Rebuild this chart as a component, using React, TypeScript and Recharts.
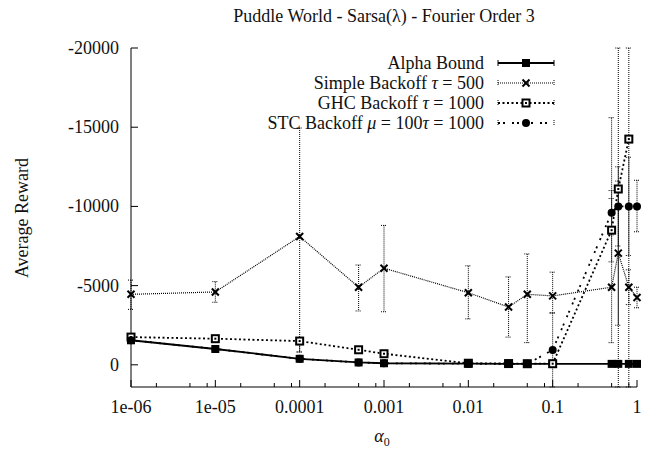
import { LineChart, Line, XAxis, YAxis, ErrorBar } from 'recharts';

// alpha_0 values (x, log scale)
const alphas = [1e-6, 1e-5, 1e-4, 5e-4, 1e-3, 1e-2, 3e-2, 5e-2, 0.1, 0.5, 0.6, 0.8, 1];

const xMajor = [1e-6, 1e-5, 1e-4, 1e-3, 1e-2, 1e-1, 1];
const xMajorLabels = ['1e-06', '1e-05', '0.0001', '0.001', '0.01', '0.1', '1'];
const xMinorSteps = [2, 5, 8];
const yTicks = [-20000, -15000, -10000, -5000, 0];
const yDomain = [-20000, 1400];

// Average reward per alpha_0, with the two ends of each error bar (null = no bar)
const alphaBound = [-1550, -1000, -380, -150, -100, -70, -60, -60, -60, -60, -60, -60, -60];

const simpleBackoff = [-4450, -4600, -8100, -4900, -6100, -4550, -3650, -4450, -4350, -4900, -7050, -4900, -4250];
const simpleLow = [-5350, -5250, -14950, -6300, -8800, -6250, -5550, -7000, -5850, -15600, -11600, -6000, -4900];
const simpleHigh = [-3500, -3950, -800, -3400, -3350, -2900, -1750, -1400, -3300, -1400, -2500, -3800, -3600];

const ghcBackoff = [-1750, -1650, -1500, -950, -700, -100, -80, -70, -70, -8500, -11100, -14250, null];
const ghcLow = [-1900, -1800, -1650, -1100, -850, null, null, null, null, -10500, -20000, -20000, null];
const ghcHigh = [-1600, -1500, -820, -800, -550, null, null, null, null, -6500, 1400, 1400, null];

const stcBackoff = [-1550, -1000, -380, -150, -100, -70, -60, -60, -940, -9600, -10000, -10000, -10000];
const stcLow = [null, null, null, null, null, null, null, null, -3250, -11000, -12500, -13100, -11650];
const stcHigh = [null, null, null, null, null, null, null, null, 1400, -8200, -7500, -6900, -8400];

const FONT = 'Liberation Serif, Times New Roman, DejaVu Serif, serif';
const P = { left: 131, right: 637, top: 48, bottom: 387 };
const TXT = { fontFamily: FONT };

function errOf(mean: (number | null)[], lo: (number | null)[], hi: (number | null)[], i: number) {
  const m = mean[i];
  const a = lo[i];
  const b = hi[i];
  if (m == null || a == null || b == null) return null;
  return [m - Math.min(a, b), Math.max(a, b) - m];
}

const rows = alphas.map((alpha, i) => ({
  alpha,
  alphaBound: alphaBound[i],
  simple: simpleBackoff[i],
  simpleErr: errOf(simpleBackoff, simpleLow, simpleHigh, i),
  ghc: ghcBackoff[i],
  ghcErr: errOf(ghcBackoff, ghcLow, ghcHigh, i),
  stc: stcBackoff[i],
  stcErr: errOf(stcBackoff, stcLow, stcHigh, i),
}));

const xTicks = [
  ...xMajor,
  ...xMajor.slice(0, -1).flatMap((d) => xMinorSteps.map((s) => d * s)),
].sort((a, b) => a - b);

function majorIndex(v: number) {
  return xMajor.findIndex((m) => Math.abs(Math.log10(v) - Math.log10(m)) < 1e-6);
}

function BottomTick(props: any) {
  const { x, payload } = props;
  const i = majorIndex(payload.value);
  const len = i >= 0 ? 7 : 4;
  return (
    <g>
      <line x1={x} x2={x} y1={P.bottom} y2={P.bottom - len} stroke="#000" />
      {i >= 0 && (
        <text x={x} y={P.bottom + 26} textAnchor="middle" fontSize={18} style={TXT} fill="#111">
          {xMajorLabels[i]}
        </text>
      )}
    </g>
  );
}

function TopTick(props: any) {
  const { x, payload } = props;
  const len = majorIndex(payload.value) >= 0 ? 7 : 4;
  return <line x1={x} x2={x} y1={P.top} y2={P.top + len} stroke="#000" />;
}

function LeftTick(props: any) {
  const { y, payload } = props;
  return (
    <g>
      <line x1={P.left} x2={P.left + 7} y1={y} y2={y} stroke="#000" />
      <text x={P.left - 12} y={y + 6} textAnchor="end" fontSize={18} style={TXT} fill="#111">
        {String(payload.value)}
      </text>
    </g>
  );
}

function RightTick(props: any) {
  const { y } = props;
  return <line x1={P.right} x2={P.right - 7} y1={y} y2={y} stroke="#000" />;
}

type Marker = 'square' | 'cross' | 'openSquare' | 'circle';

function drawMarker(kind: Marker, cx: number, cy: number, key?: string) {
  if (kind === 'square') return <rect key={key} x={cx - 4} y={cy - 4} width={8} height={8} fill="#000" />;
  if (kind === 'cross')
    return (
      <g key={key} stroke="#000" strokeWidth={2}>
        <line x1={cx - 3.5} y1={cy - 3.5} x2={cx + 3.5} y2={cy + 3.5} />
        <line x1={cx - 3.5} y1={cy + 3.5} x2={cx + 3.5} y2={cy - 3.5} />
      </g>
    );
  if (kind === 'openSquare')
    return (
      <g key={key}>
        <rect x={cx - 3.5} y={cy - 3.5} width={7} height={7} fill="#fff" stroke="#000" strokeWidth={2} />
        <rect x={cx - 1} y={cy - 1} width={2} height={2} fill="#000" />
      </g>
    );
  return <circle key={key} cx={cx} cy={cy} r={4} fill="#000" />;
}

function dotFor(kind: Marker) {
  return (props: any) => {
    const { cx, cy, index, value } = props;
    const k = `${kind}-${index}`;
    if (cx == null || cy == null || value == null) return <g key={k} />;
    return drawMarker(kind, cx, cy, k);
  };
}

const SERIES = [
  { key: 'alphaBound', marker: 'square' as Marker, dash: undefined, width: 1.8 },
  { key: 'simple', marker: 'cross' as Marker, dash: '1 1', width: 1.2 },
  { key: 'ghc', marker: 'openSquare' as Marker, dash: '2 2.5', width: 1.8 },
  { key: 'stc', marker: 'circle' as Marker, dash: '2 3 2 7', width: 1.8 },
];

const LEGEND_ROWS = [
  [{ t: 'Alpha Bound' }],
  [{ t: 'Simple Backoff ' }, { t: 'τ', i: true }, { t: ' = 500' }],
  [{ t: 'GHC Backoff ' }, { t: 'τ', i: true }, { t: ' = 1000' }],
  [{ t: 'STC Backoff ' }, { t: 'μ', i: true }, { t: ' = 100' }, { t: 'τ', i: true }, { t: ' = 1000' }],
];

function Overlay() {
  return (
    <svg width={652} height={451} style={{ position: 'absolute', left: 0, top: 0, pointerEvents: 'none' }}>
      <text x={384} y={22} textAnchor="middle" fontSize={18} style={TXT} fill="#111">
        Puddle World - Sarsa(λ) - Fourier Order 3
      </text>
      <text
        x={22}
        y={218}
        transform="rotate(-90 22 218)"
        textAnchor="middle"
        dominantBaseline="central"
        fontSize={18}
        style={TXT}
        fill="#111"
      >
        Average Reward
      </text>
      <text x={382} y={442} textAnchor="middle" fontSize={18} style={TXT} fill="#111">
        <tspan fontStyle="italic">α</tspan>
        <tspan fontSize={12} dy={4}>0</tspan>
      </text>
      {LEGEND_ROWS.map((parts, r) => {
        const y = 63 + r * 20;
        const s = SERIES[r];
        return (
          <g key={r}>
            <text x={484} y={y + 6} textAnchor="end" fontSize={18} style={TXT} fill="#111">
              {parts.map((p: any, j) => (
                <tspan key={j} fontStyle={p.i ? 'italic' : 'normal'}>
                  {p.t}
                </tspan>
              ))}
            </text>
            <line x1={498} x2={554} y1={y} y2={y} stroke="#000" strokeWidth={s.width} strokeDasharray={s.dash} />
            <line x1={498} x2={498} y1={y - 3} y2={y + 3} stroke="#000" strokeDasharray={s.dash ? '1 1' : undefined} />
            <line x1={554} x2={554} y1={y - 3} y2={y + 3} stroke="#000" strokeDasharray={s.dash ? '1 1' : undefined} />
            {drawMarker(s.marker, 526, y)}
          </g>
        );
      })}
    </svg>
  );
}

export default function App() {
  return (
    <div style={{ position: 'absolute', left: 0, top: 0, width: 652, height: 451, background: '#fff' }}>
      <LineChart width={652} height={451} data={rows} margin={{ top: P.top, right: 652 - P.right, bottom: 0, left: 0 }}>
        <XAxis
          xAxisId="b"
          dataKey="alpha"
          type="number"
          scale="log"
          domain={[1e-6, 1]}
          ticks={xTicks}
          interval={0}
          height={451 - P.bottom}
          tickSize={0}
          tickMargin={0}
          tickLine={false}
          tick={BottomTick}
          axisLine={{ stroke: '#000' }}
        />
        <XAxis
          xAxisId="t"
          orientation="top"
          type="number"
          scale="log"
          domain={[1e-6, 1]}
          ticks={xTicks}
          interval={0}
          height={0}
          tickSize={0}
          tickMargin={0}
          tickLine={false}
          tick={TopTick}
          axisLine={{ stroke: '#000' }}
        />
        <YAxis
          yAxisId="l"
          type="number"
          domain={yDomain}
          reversed
          ticks={yTicks}
          interval={0}
          width={P.left}
          tickSize={0}
          tickMargin={0}
          tickLine={false}
          tick={LeftTick}
          axisLine={{ stroke: '#000' }}
        />
        <YAxis
          yAxisId="r"
          orientation="right"
          type="number"
          domain={yDomain}
          reversed
          ticks={yTicks}
          interval={0}
          width={0}
          tickSize={0}
          tickMargin={0}
          tickLine={false}
          tick={RightTick}
          axisLine={{ stroke: '#000' }}
        />
        {SERIES.map((s) => (
          <Line
            key={s.key}
            xAxisId="b"
            yAxisId="l"
            dataKey={s.key}
            type="linear"
            stroke="#000"
            strokeWidth={s.width}
            strokeDasharray={s.dash}
            dot={dotFor(s.marker)}
            activeDot={false}
            isAnimationActive={false}
          >
            {s.key !== 'alphaBound' && (
              <ErrorBar
                dataKey={`${s.key}Err`}
                direction="y"
                width={3}
                stroke="#000"
                strokeWidth={1}
                strokeDasharray="1 1"
              />
            )}
          </Line>
        ))}
      </LineChart>
      <Overlay />
    </div>
  );
}
